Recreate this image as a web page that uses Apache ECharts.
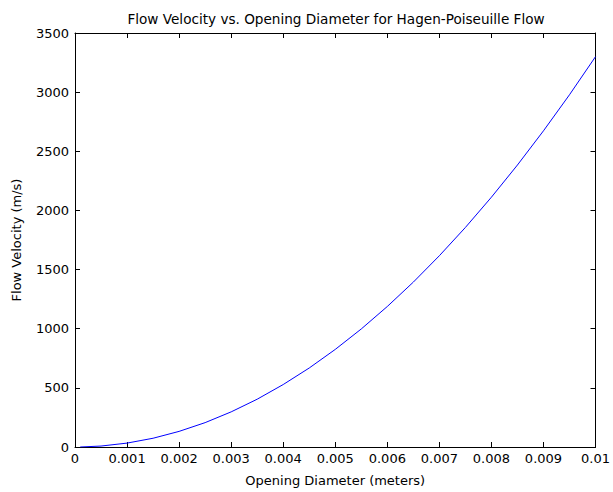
<!DOCTYPE html>
<html>
<head>
<meta charset="utf-8">
<script src="https://cdn.jsdelivr.net/npm/echarts@6/dist/echarts.min.js"></script>
<style>
  html, body { margin: 0; padding: 0; background: #fff; }
  #chart { width: 613px; height: 492px; }
</style>
</head>
<body>
<div id="chart"></div>
<script>
(function() {
  // opening diameter (m) and flow velocity (m/s)
  var diameters = [0.0001, 0.0005, 0.001, 0.0015, 0.002, 0.0025, 0.003, 0.0035, 0.004, 0.0045,
                   0.005, 0.0055, 0.006, 0.0065, 0.007, 0.0075, 0.008, 0.0085, 0.009, 0.0095, 0.01];
  var velocities = [0, 8, 33, 74, 132, 206, 297, 404, 528, 668,
                    825, 998, 1188, 1394, 1617, 1856, 2112, 2384, 2673, 2978, 3300];
  var xTicks = [0, 0.001, 0.002, 0.003, 0.004, 0.005, 0.006, 0.007, 0.008, 0.009, 0.01];
  var yTicks = [0, 500, 1000, 1500, 2000, 2500, 3000, 3500];

  var font = 'DejaVu Sans, sans-serif';
  var points = diameters.map(function(d, i) { return [d, velocities[i]]; });

  function fmtX(v) { return String(parseFloat(v.toFixed(4))); }
  function fmtY(v) { return String(v); }

  var line = { onZero: false, lineStyle: { color: '#000' } };
  var tick = { show: true, inside: true, length: 5, lineStyle: { color: '#000' } };
  var txt = { fontFamily: font, fontSize: 13, color: '#000' };

  var chart = echarts.init(document.getElementById('chart'), null, { renderer: 'svg' });
  chart.setOption({
    animation: false,
    backgroundColor: '#fff',
    title: {
      text: 'Flow Velocity vs. Opening Diameter for Hagen-Poiseuille Flow',
      left: 331, top: 7, textAlign: 'center',
      textStyle: { fontFamily: font, fontSize: 13.6, fontWeight: 'normal', color: '#000' }
    },
    grid: { left: 75, right: 12, top: 33, bottom: 43 },
    xAxis: [{
      type: 'value', position: 'bottom', min: xTicks[0], max: xTicks[xTicks.length - 1], interval: 0.001,
      name: 'Opening Diameter (meters)', nameLocation: 'middle', nameGap: 27,
      nameTextStyle: txt,
      axisLine: line, axisTick: tick,
      axisLabel: Object.assign({ margin: 5, formatter: fmtX }, txt),
      splitLine: { show: false }
    }, {
      type: 'value', position: 'top', min: xTicks[0], max: xTicks[xTicks.length - 1], interval: 0.001,
      axisLine: line, axisTick: tick,
      axisLabel: { show: false }, splitLine: { show: false }
    }],
    yAxis: [{
      type: 'value', position: 'left', min: yTicks[0], max: yTicks[yTicks.length - 1], interval: 500,
      name: 'Flow Velocity (m/s)', nameLocation: 'middle', nameGap: 52,
      nameTextStyle: txt,
      axisLine: { show: true, onZero: false, lineStyle: { color: '#000' } }, axisTick: tick,
      axisLabel: Object.assign({ margin: 6, formatter: fmtY }, txt),
      splitLine: { show: false }
    }, {
      type: 'value', position: 'right', min: yTicks[0], max: yTicks[yTicks.length - 1], interval: 500,
      axisLine: { show: true, onZero: false, lineStyle: { color: '#000' } }, axisTick: tick,
      axisLabel: { show: false }, splitLine: { show: false }
    }],
    series: [{
      type: 'line',
      data: points,
      showSymbol: false,
      lineStyle: { color: '#0000ff', width: 1 },
      itemStyle: { color: '#0000ff' }
    }]
  });
  window.addEventListener('resize', function() { chart.resize(); });
})();
</script>
</body>
</html>
